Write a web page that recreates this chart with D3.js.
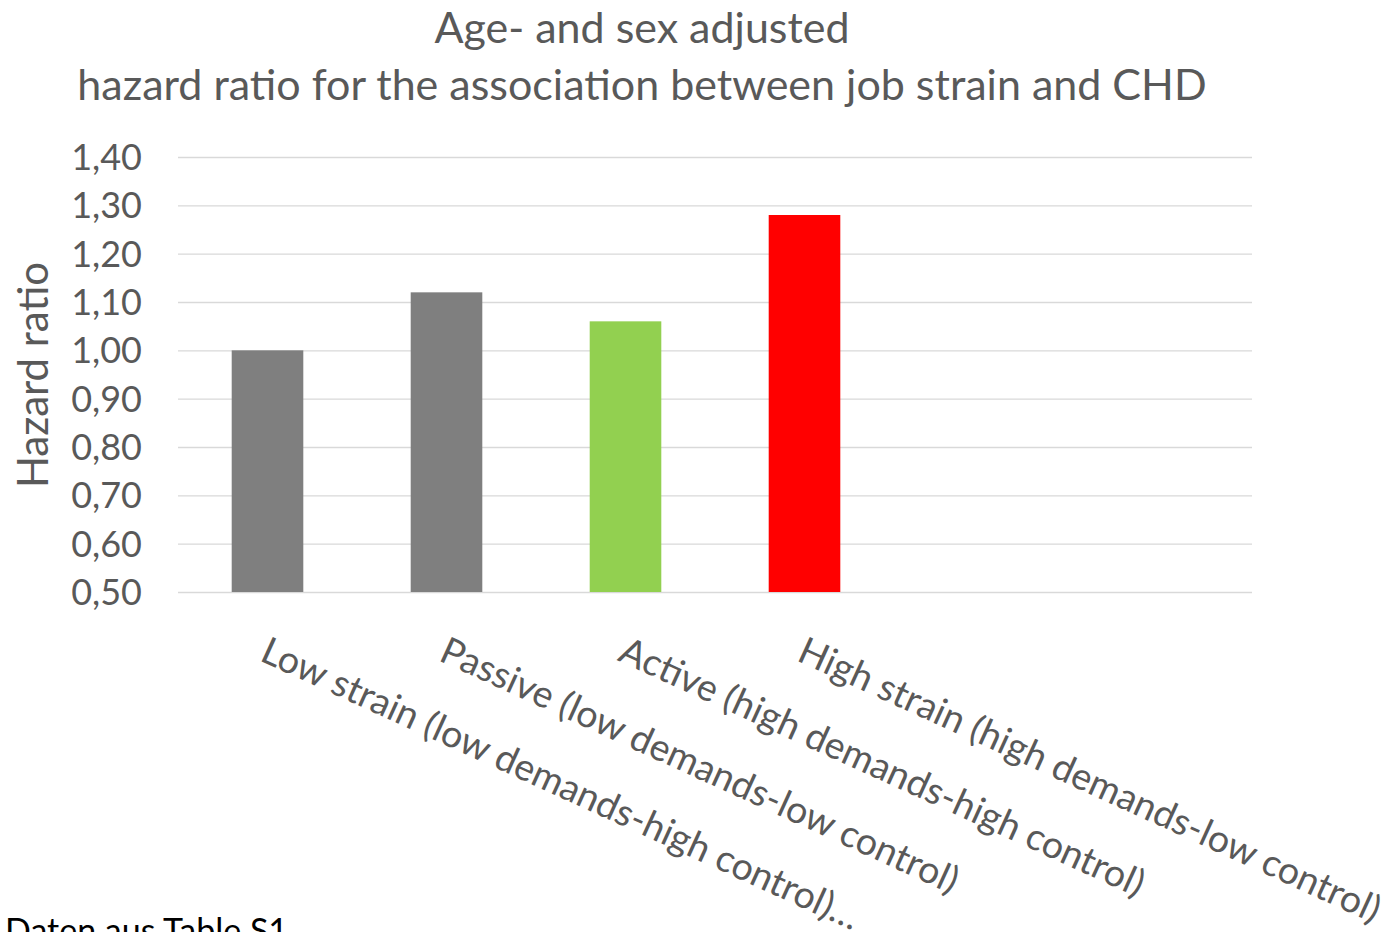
<!DOCTYPE html>
<html>
<head>
<meta charset="utf-8">
<script src="https://cdn.jsdelivr.net/npm/d3@7"></script>
<style>
  html, body { margin: 0; padding: 0; background: #fff; }
  svg { display: block; }
  text { font-family: Lato, "Open Sans", sans-serif; }
</style>
</head>
<body>
<svg id="chart" width="1387" height="932"></svg>
<script>
const titleLines = ["Age- and sex adjusted", "hazard ratio for the association between job strain and CHD"];
const yTitle = "Hazard ratio";
const categories = [
  "Low strain (low demands-high control)\u2026",
  "Passive (low demands-low control)",
  "Active (high demands-high control)",
  "High strain (high demands-low control)",
  "",
  ""
];
const values = [1.00, 1.12, 1.06, 1.28, null, null];
const barColors = ["#7f7f7f", "#7f7f7f", "#92d050", "#ff0000", null, null];
const yTicks = [0.5, 0.6, 0.7, 0.8, 0.9, 1.0, 1.1, 1.2, 1.3, 1.4];
const footnote = "Daten aus Table S1";

(function () {
const svg = d3.select("#chart");
const grey = "#595959";
const pLeft = 178, pRight = 1252, pTop = 157, pBottom = 592;

const x = d3.scaleBand().domain(d3.range(categories.length)).range([pLeft, pRight])
  .paddingInner(0.6).paddingOuter(0.3);
const y = d3.scaleLinear().domain([0.5, 1.4]).range([pBottom, pTop]);

// gridlines
const grid = svg.append("g").attr("transform", `translate(${pLeft},0)`)
  .call(d3.axisLeft(y).tickValues(yTicks).tickSize(-(pRight - pLeft)).tickFormat(""));
grid.select(".domain").remove();
grid.selectAll("line").attr("stroke", "#d9d9d9").attr("stroke-width", 1.3);

// y tick labels
const yAxis = svg.append("g").attr("transform", `translate(142,0)`)
  .call(d3.axisLeft(y).tickValues(yTicks).tickSize(0).tickPadding(0)
    .tickFormat(d => d3.format(".2f")(d).replace(".", ",")));
yAxis.select(".domain").remove();
yAxis.selectAll("text").attr("fill", grey).style("font-size", "36px")
  .style("font-family", "Lato, sans-serif").attr("dy", "0.35em");

// bars
const idx = d3.range(categories.length).filter(i => values[i] != null);
svg.append("g").selectAll("rect").data(idx).join("rect")
  .attr("x", i => x(i))
  .attr("width", x.bandwidth())
  .attr("y", i => y(values[i]))
  .attr("height", i => y(0.5) - y(values[i]))
  .attr("fill", i => barColors[i]);

// x axis labels (rotated)
const xAxis = svg.append("g").attr("transform", `translate(0,${pBottom})`)
  .call(d3.axisBottom(x).tickSize(0).tickFormat(i => categories[i]));
xAxis.select(".domain").remove();
xAxis.selectAll(".tick text")
  .attr("fill", grey)
  .style("font-size", "37.5px")
  .style("font-family", "Lato, sans-serif")
  .attr("text-anchor", "start")
  .attr("x", 0).attr("y", 0).attr("dy", 0)
  .attr("transform", "translate(-9,68) rotate(24.5)");

// title
svg.append("text").attr("x", 642).attr("y", 43).attr("text-anchor", "middle")
  .attr("fill", grey).style("font-size", "43px").text(titleLines[0]);
svg.append("text").attr("x", 642).attr("y", 100).attr("text-anchor", "middle")
  .attr("fill", grey).style("font-size", "43px").text(titleLines[1]);

// y title
svg.append("text").attr("transform", "translate(48,375) rotate(-90)")
  .attr("text-anchor", "middle").attr("fill", grey).style("font-size", "42px").text(yTitle);

// footnote
svg.append("text").attr("x", 5).attr("y", 943).attr("fill", "#000")
  .style("font-size", "34px").text(footnote);
})();
</script>
</body>
</html>
